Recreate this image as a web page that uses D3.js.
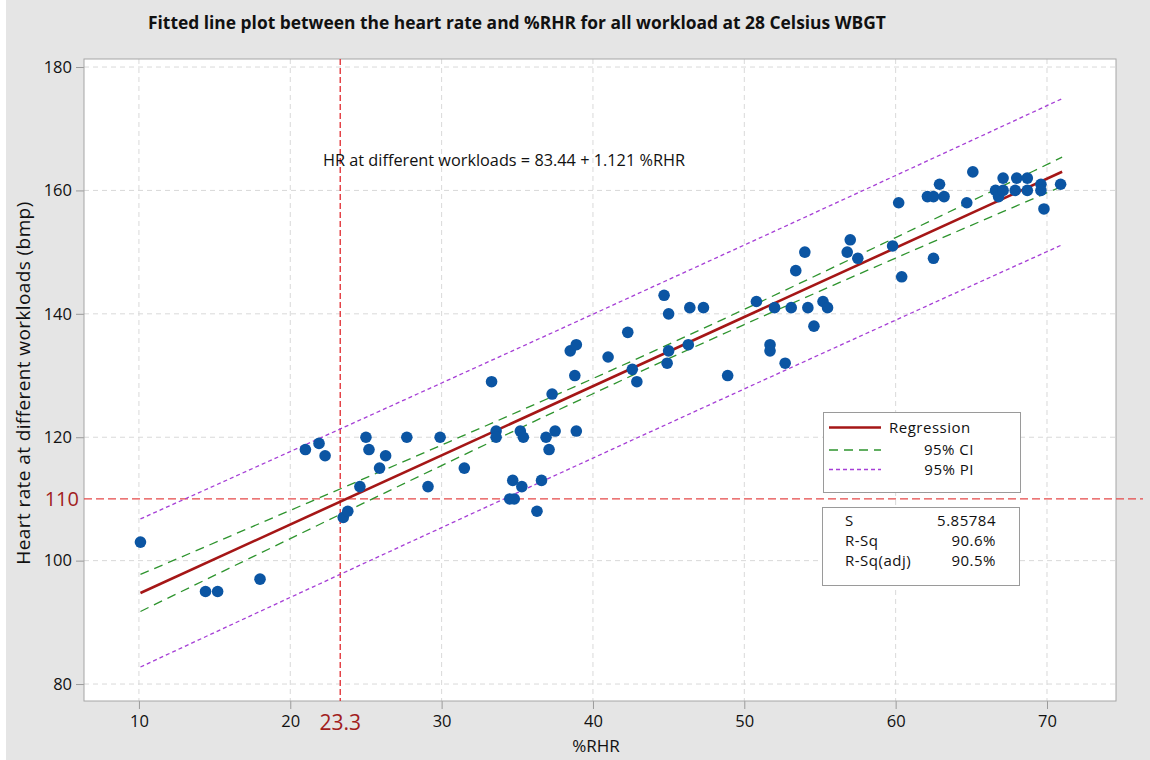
<!DOCTYPE html>
<html>
<head>
<meta charset="utf-8">
<script src="https://cdn.jsdelivr.net/npm/d3@7"></script>
<style>
  html, body { margin: 0; padding: 0; background: #ffffff; }
  svg { display: block; }
  text { font-family: "Open Sans", "Noto Sans", sans-serif; fill: #111111; }
</style>
</head>
<body>
<svg id="chart" width="1150" height="760"></svg>
<script>
// ---------- data ----------
const rhr = [10.1, 14.4, 15.2, 18.0, 21.0, 21.9, 22.3, 23.5, 23.8, 24.6,
             25.0, 25.2, 25.9, 26.3, 27.7, 29.1, 29.9, 31.5, 33.3, 33.6,
             33.6, 34.5, 34.8, 34.7, 35.3, 35.2, 35.4, 36.3, 36.6, 36.9,
             37.1, 37.3, 37.5, 38.5, 38.8, 38.9, 38.9, 41.0, 42.3, 42.6,
             42.9, 44.7, 44.9, 45.0, 45.0, 46.3, 46.4, 47.3, 48.9, 50.8,
             51.7, 51.7, 52.0, 52.7, 53.1, 53.4, 54.0, 54.2, 54.6, 55.2,
             55.5, 56.8, 57.0, 57.5, 59.8, 60.2, 60.4, 62.1, 62.5, 62.5,
             62.9, 63.2, 64.7, 65.1, 66.6, 66.8, 67.1, 67.1, 68.0, 68.7,
             67.9, 68.7, 69.6, 69.6, 69.8, 70.9];
const heartRate = [103, 95, 95, 97, 118, 119, 117, 107, 108, 112,
                   120, 118, 115, 117, 120, 112, 120, 115, 129, 121,
                   120, 110, 110, 113, 112, 121, 120, 108, 113, 120,
                   118, 127, 121, 134, 130, 135, 121, 133, 137, 131,
                   129, 143, 132, 140, 134, 135, 141, 141, 130, 142,
                   135, 134, 141, 132, 141, 147, 150, 141, 138, 142,
                   141, 150, 152, 149, 151, 158, 146, 159, 159, 149,
                   161, 159, 158, 163, 160, 159, 160, 162, 162, 162,
                   160, 160, 161, 160, 157, 161];

// fitted line: HR = 83.44 + 1.121 %RHR, drawn over the data range
const fitX = [10.1, 71.0];
const fitY = [94.76, 163.03];

// confidence / prediction bands
const bandX   = [10.1, 20, 30, 40, 45, 50, 60, 71];
const ciUpper = [97.76, 108.15, 118.73, 129.51, 135.05, 140.72, 152.36, 165.39];
const ciLower = [91.76, 103.57, 115.41, 127.05, 132.73, 138.26, 149.04, 160.67];
const piUpper = [106.76, 117.68, 128.79, 139.94, 145.55, 151.15, 162.42, 174.87];
const piLower = [82.76, 94.04, 105.35, 116.62, 122.23, 127.83, 138.98, 151.19];

const xTicks = [10, 20, 30, 40, 50, 60, 70];
const yTicks = [80, 100, 120, 140, 160, 180];

const refX = 23.3;
const refY = 110;

const titleText = "Fitted line plot between the heart rate and %RHR for all workload at 28 Celsius WBGT";
const equationText = "HR at different workloads = 83.44 + 1.121 %RHR";
const xLabel = "%RHR";
const yLabel = "Heart rate at different workloads (bmp)";
const legendLabels = ["Regression", "95% CI", "95% PI"];
const statNames = ["S", "R-Sq", "R-Sq(adj)"];
const statValues = ["5.85784", "90.6%", "90.5%"];

// ---------- drawing ----------
const svg = d3.select("#chart");
const L = 84, R = 1116, T = 59, B = 701;

const x = d3.scaleLinear().domain([6.37, 74.56]).range([L, R]);
const y = d3.scaleLinear().domain([77.25, 181.3]).range([B, T]);

// backgrounds
svg.append("rect").attr("x", 0).attr("y", 0).attr("width", 1150).attr("height", 760).attr("fill", "#ffffff");
svg.append("rect").attr("x", 6).attr("y", 0).attr("width", 1144).attr("height", 760).attr("fill", "#e5e5e5");
svg.append("rect").attr("x", L).attr("y", T).attr("width", R - L).attr("height", B - T)
   .attr("fill", "#ffffff");

// grid
const grid = svg.append("g");
grid.selectAll("line.gx").data(xTicks).join("line")
  .attr("x1", d => x(d)).attr("x2", d => x(d)).attr("y1", T).attr("y2", B)
  .attr("stroke", "#d9d9d9").attr("stroke-width", 1).attr("stroke-dasharray", "5,4");
grid.selectAll("line.gy").data(yTicks).join("line")
  .attr("y1", d => y(d)).attr("y2", d => y(d)).attr("x1", L).attr("x2", R)
  .attr("stroke", "#d9d9d9").attr("stroke-width", 1).attr("stroke-dasharray", "5,4");

// axes
const xAxis = d3.axisBottom(x).tickValues(xTicks).tickSize(8).tickPadding(6).tickFormat(d3.format("d"));
const yAxis = d3.axisLeft(y).tickValues(yTicks).tickSize(8).tickPadding(4).tickFormat(d3.format("d"));
const gx = svg.append("g").attr("transform", `translate(0,${B})`).call(xAxis);
const gy = svg.append("g").attr("transform", `translate(${L},0)`).call(yAxis);
[gx, gy].forEach(g => {
  g.select(".domain").remove();
  g.selectAll(".tick line").attr("stroke", "#9a9a9a");
  g.selectAll(".tick text").attr("font-size", 16.5).attr("fill", "#111111")
    .attr("font-family", "'Open Sans', 'Noto Sans', sans-serif");
});

// plot border
svg.append("rect").attr("x", L).attr("y", T).attr("width", R - L).attr("height", B - T)
   .attr("fill", "none").attr("stroke", "#a6a6a6").attr("stroke-width", 1);

// reference lines
svg.append("line").attr("x1", x(refX)).attr("x2", x(refX)).attr("y1", T).attr("y2", B)
   .attr("stroke", "#e0282e").attr("stroke-width", 1.3).attr("stroke-dasharray", "6,3");
svg.append("line").attr("x1", L).attr("x2", 1143).attr("y1", y(refY)).attr("y2", y(refY))
   .attr("stroke", "#e54848").attr("stroke-width", 1.3).attr("stroke-dasharray", "8,4");

// bands
const bandLine = (arr) => d3.line().curve(d3.curveMonotoneX)
   .x((d, i) => x(bandX[i])).y((d, i) => y(arr[i]))(arr);
[piUpper, piLower].forEach(arr => svg.append("path").attr("d", bandLine(arr))
   .attr("fill", "none").attr("stroke", "#a63fd6").attr("stroke-width", 1.3).attr("stroke-dasharray", "4,3"));
[ciUpper, ciLower].forEach(arr => svg.append("path").attr("d", bandLine(arr))
   .attr("fill", "none").attr("stroke", "#2e942e").attr("stroke-width", 1.3).attr("stroke-dasharray", "9,6"));

// regression line
svg.append("path")
   .attr("d", d3.line().x((d, i) => x(fitX[i])).y(d => y(d))(fitY))
   .attr("fill", "none").attr("stroke", "#a51616").attr("stroke-width", 2.6);

// points
svg.append("g").selectAll("circle").data(rhr).join("circle")
   .attr("cx", d => x(d)).attr("cy", (d, i) => y(heartRate[i])).attr("r", 5.8)
   .attr("fill", "#0b55a3");

// title
svg.append("text").attr("x", 148).attr("y", 29).attr("font-size", 17.4).attr("font-weight", "bold")
   .text(titleText);

// equation
svg.append("text").attr("x", 323).attr("y", 166).attr("font-size", 16.3).text(equationText);

// axis labels
svg.append("text").attr("x", 596).attr("y", 752).attr("text-anchor", "middle").attr("font-size", 17).text(xLabel);
svg.append("text").attr("transform", `translate(30,383) rotate(-90)`).attr("text-anchor", "middle")
   .attr("font-size", 19).attr("letter-spacing", 0.4).text(yLabel);

// reference labels
svg.append("text").attr("x", 79).attr("y", y(refY)).attr("dy", "0.35em").attr("text-anchor", "end")
   .attr("font-size", 20).style("fill", "#a11d1d").text(refY);
svg.append("text").attr("x", x(refX)).attr("y", 730).attr("text-anchor", "middle")
   .attr("font-size", 21).style("fill", "#a11d1d").text(refX);

// legend box
const boxFont = 15;
const lg = svg.append("g");
lg.append("rect").attr("x", 823.5).attr("y", 412.5).attr("width", 197).attr("height", 80)
  .attr("fill", "#ffffff").attr("stroke", "#9a9a9a");
const legendStyles = [
  {stroke: "#a51616", width: 2.6, dash: null},
  {stroke: "#2e942e", width: 1.3, dash: "9,6"},
  {stroke: "#a63fd6", width: 1.3, dash: "4,3"}
];
const legendY = [427.5, 450, 469.5];
legendLabels.forEach((lab, i) => {
  lg.append("line").attr("x1", 829).attr("x2", 881).attr("y1", legendY[i]).attr("y2", legendY[i])
    .attr("stroke", legendStyles[i].stroke).attr("stroke-width", legendStyles[i].width)
    .attr("stroke-dasharray", legendStyles[i].dash);
  const t = lg.append("text").attr("y", legendY[i]).attr("dy", "0.35em").attr("font-size", boxFont)
    .attr("letter-spacing", 0.5).text(lab);
  if (i === 0) t.attr("x", 889); else t.attr("x", 974).attr("text-anchor", "end");
});

// stats box
const sg = svg.append("g");
sg.append("rect").attr("x", 822.5).attr("y", 507.5).attr("width", 197).attr("height", 78)
  .attr("fill", "#ffffff").attr("stroke", "#9a9a9a");
const statY = [521, 541, 561];
statNames.forEach((nm, i) => {
  sg.append("text").attr("x", 845).attr("y", statY[i]).attr("dy", "0.35em").attr("font-size", boxFont)
    .attr("letter-spacing", 0.5).text(nm);
  sg.append("text").attr("x", 996).attr("y", statY[i]).attr("dy", "0.35em").attr("text-anchor", "end")
    .attr("font-size", boxFont).attr("letter-spacing", 0.5).text(statValues[i]);
});
</script>
</body>
</html>
